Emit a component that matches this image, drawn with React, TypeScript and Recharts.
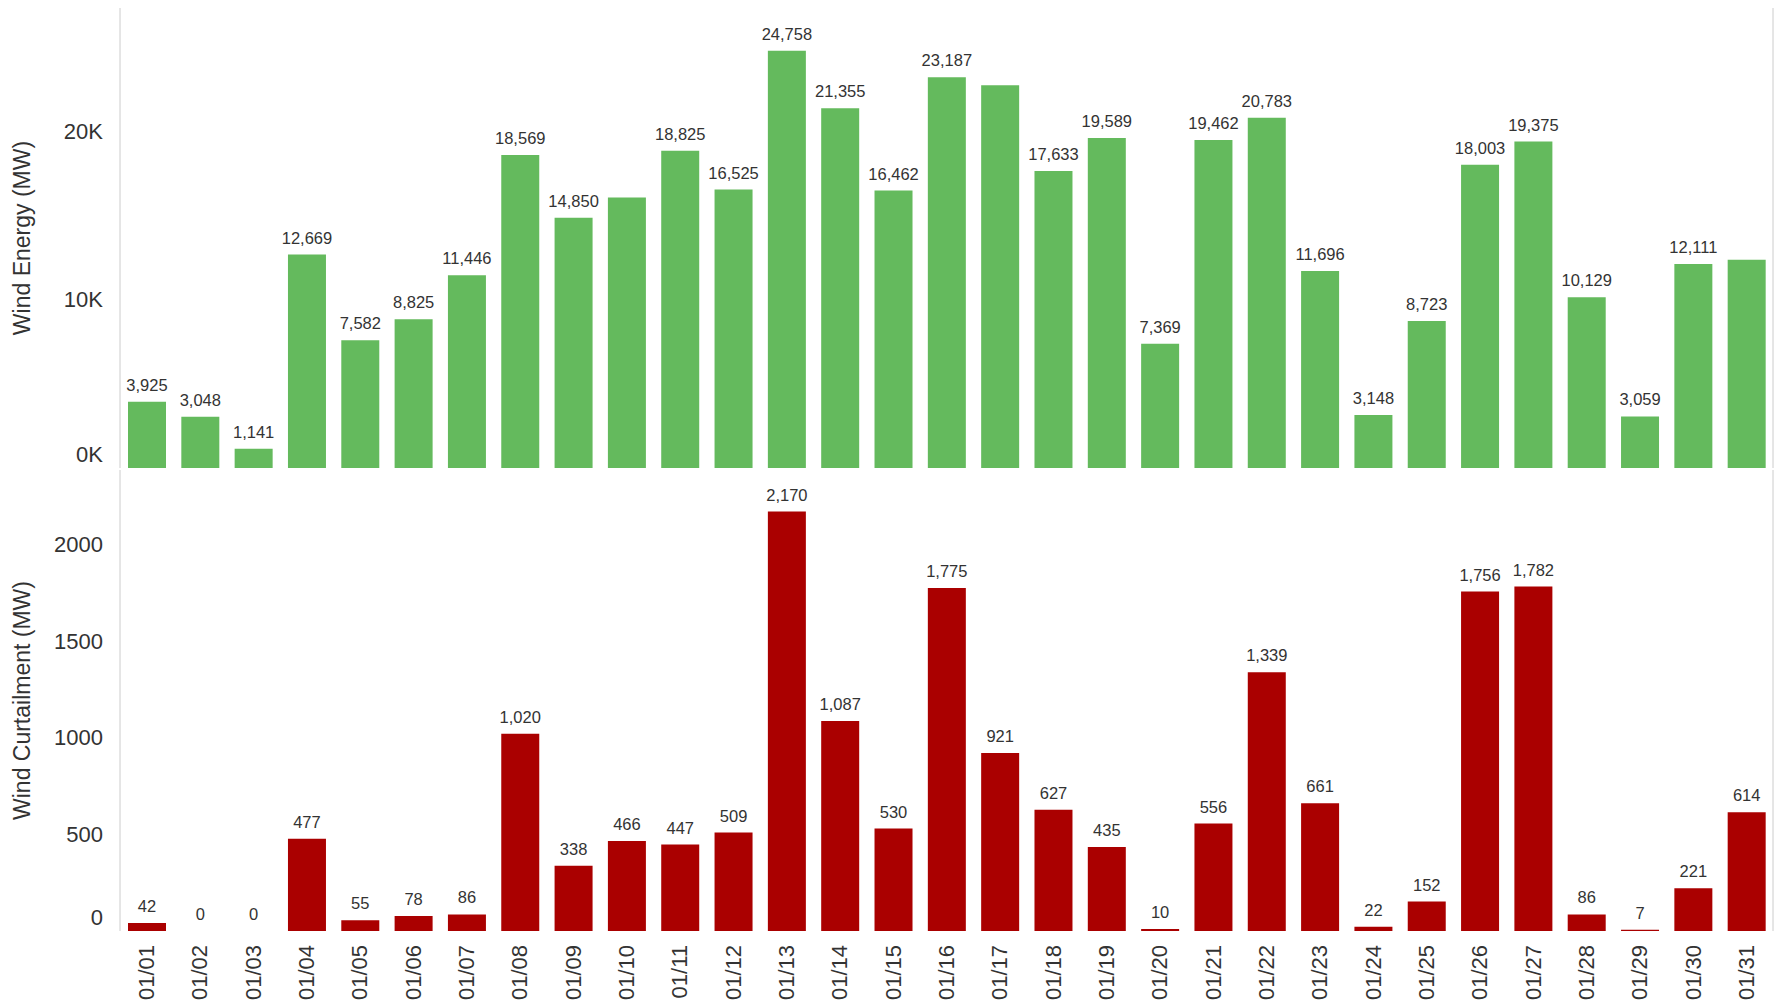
import React from 'react';
import { BarChart, Bar, XAxis, YAxis, LabelList } from 'recharts';

const dates = [
  '01/01', '01/02', '01/03', '01/04', '01/05', '01/06', '01/07', '01/08', '01/09', '01/10',
  '01/11', '01/12', '01/13', '01/14', '01/15', '01/16', '01/17', '01/18', '01/19', '01/20',
  '01/21', '01/22', '01/23', '01/24', '01/25', '01/26', '01/27', '01/28', '01/29', '01/30', '01/31',
];

const windEnergy = [
  3925, 3048, 1141, 12669, 7582, 8825, 11446, 18569, 14850, 16060,
  18825, 16525, 24758, 21355, 16462, 23187, 22720, 17633, 19589, 7369,
  19462, 20783, 11696, 3148, 8723, 18003, 19375, 10129, 3059, 12111, 12360,
];

const windCurtailment = [
  42, 0, 0, 477, 55, 78, 86, 1020, 338, 466,
  447, 509, 2170, 1087, 530, 1775, 921, 627, 435, 10,
  556, 1339, 661, 22, 152, 1756, 1782, 86, 7, 221, 614,
];

const energyHiddenLabels = ['01/10', '01/17', '01/31'];
const energyTicks = [0, 10000, 20000];
const curtailmentTicks = [0, 500, 1000, 1500, 2000];

const GREEN = '#64ba5d';
const RED = '#aa0000';
const TEXT = '#333333';
const AXIS = '#cccccc';
const FONT = "Arial, 'Liberation Sans', sans-serif";

const fmt = (v: number) => v.toLocaleString('en-US');

const data = dates.map((d, i) => ({
  date: d,
  energy: windEnergy[i],
  curtail: windCurtailment[i],
  energyLabel: energyHiddenLabels.includes(d) ? null : fmt(windEnergy[i]),
  curtailLabel: fmt(windCurtailment[i]),
}));

const renderBarLabel = (props: any) => {
  const vb = props.viewBox && props.viewBox.width !== undefined ? props.viewBox : props;
  const x = Number(vb.x);
  const y = Number(vb.y);
  const w = Number(vb.width);
  const { value } = props;
  if (value === null || value === undefined || value === '') return null;
  return (
    <text x={x + w / 2} y={y - 11} textAnchor="middle" fontSize={16.5} fill={TEXT} fontFamily={FONT}>
      {value}
    </text>
  );
};

const YTick = (fmtFn: (v: number) => string) => (props: any) => {
  const { x, y, payload } = props;
  const v = payload.value;
  return (
    <text
      x={x}
      y={y + (v === 0 ? -14 : 0)}
      textAnchor="end"
      dominantBaseline="central"
      fontSize={22}
      fill={TEXT}
      fontFamily={FONT}
    >
      {fmtFn(v)}
    </text>
  );
};

const XTick = (props: any) => {
  const { x, y, payload } = props;
  return (
    <text
      x={x}
      y={y}
      transform={`rotate(-90, ${x}, ${y})`}
      textAnchor="end"
      dominantBaseline="central"
      fontSize={22}
      fill={TEXT}
      fontFamily={FONT}
    >
      {payload.value}
    </text>
  );
};

const axisTitle = (title: string) => (props: any) => {
  const vb = props.viewBox || {};
  const cx = 22;
  const cy = Number(vb.y) + Number(vb.height) / 2;
  return (
    <text
      x={cx}
      y={cy}
      transform={`rotate(-90, ${cx}, ${cy})`}
      textAnchor="middle"
      dominantBaseline="central"
      fontSize={23}
      fill={TEXT}
      fontFamily={FONT}
    >
      {title}
    </text>
  );
};

export default function App() {
  return (
    <div style={{ position: 'absolute', left: 0, top: 0, width: 1775, height: 1004, background: '#ffffff' }}>
      <BarChart
        width={1775}
        height={470}
        data={data}
        margin={{ top: 8, right: 0, bottom: 2, left: 0 }}
        barSize={38}
      >
        <XAxis dataKey="date" hide />
        <YAxis
          yAxisId="left"
          width={120}
          domain={[0, 27300]}
          ticks={energyTicks}
          interval={0}
          tickLine={false}
          tickSize={0}
          tickMargin={17}
          axisLine={{ stroke: AXIS }}
          tick={YTick((v) => `${v / 1000}K`)}
          label={axisTitle('Wind Energy (MW)')}
        />
        <YAxis yAxisId="right" orientation="right" width={2} tick={false} tickLine={false} axisLine={{ stroke: AXIS }} />
        <Bar yAxisId="left" dataKey="energy" fill={GREEN} isAnimationActive={false}>
          <LabelList dataKey="energyLabel" position="top" content={renderBarLabel} />
        </Bar>
      </BarChart>
      <BarChart
        width={1775}
        height={534}
        data={data}
        margin={{ top: 0, right: 0, bottom: 0, left: 0 }}
        barSize={38}
      >
        <XAxis
          dataKey="date"
          height={73}
          interval={0}
          tickLine={false}
          tickSize={0}
          tickMargin={14}
          axisLine={false}
          tick={XTick}
        />
        <YAxis
          yAxisId="left"
          width={120}
          domain={[0, 2385]}
          ticks={curtailmentTicks}
          interval={0}
          tickLine={false}
          tickSize={0}
          tickMargin={17}
          axisLine={{ stroke: AXIS }}
          tick={YTick((v) => String(v))}
          label={axisTitle('Wind Curtailment (MW)')}
        />
        <YAxis yAxisId="right" orientation="right" width={2} tick={false} tickLine={false} axisLine={{ stroke: AXIS }} />
        <Bar yAxisId="left" dataKey="curtail" fill={RED} minPointSize={0.01} isAnimationActive={false}>
          <LabelList dataKey="curtailLabel" position="top" content={renderBarLabel} />
        </Bar>
      </BarChart>
    </div>
  );
}
